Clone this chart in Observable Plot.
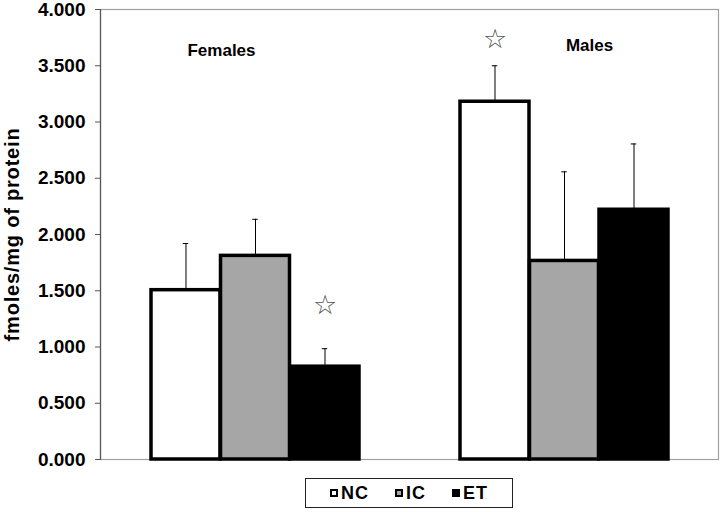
<!DOCTYPE html>
<html>
<head>
<meta charset="utf-8">
<script src="https://cdn.jsdelivr.net/npm/d3@7"></script>
<script src="https://cdn.jsdelivr.net/npm/@observablehq/plot@0.6"></script>
<style>
  body { margin: 0; background: #fff; font-family: "Liberation Sans", Arial, sans-serif; }
  #chart { width: 720px; }
  #chart svg { display: block; }
  #legend {
    margin-left: 305px; margin-top: 8px; width: 208px; height: 30px;
    border: 1.5px solid #222; box-sizing: border-box;
    display: flex; align-items: center; justify-content: center; gap: 26px;
    font-weight: bold; font-size: 18px; letter-spacing: 1px; color: #000;
  }
  #legend .item { display: inline-flex; align-items: center; }
  #legend .sw { width: 4px; height: 4px; border: 2.5px solid #000; display: inline-block; margin-right: 3px; }
  #err { color: red; font-size: 10px; }
</style>
</head>
<body>
<div id="chart"></div>
<pre id="err"></pre>
<script>
window.onerror = (m) => { document.getElementById("err").textContent += m + "\n"; };

// ---- data ----
const groups = ["Females", "Males"];
const series = ["NC", "IC", "ET"];
const femalesMean = [1.505, 1.81, 0.825];
const femalesErr  = [0.415, 0.325, 0.16];
const malesMean   = [3.18, 1.765, 2.22];
const malesErr    = [0.32, 0.792, 0.585];
const stars = [{group: "Females", series: "ET", y: 1.366}, {group: "Males", series: "NC", y: 3.734}];
const groupLabels = ["Females", "Males"];
const groupLabelY = [3.636, 3.68];
const yTicks = [0, 0.5, 1, 1.5, 2, 2.5, 3, 3.5, 4];
const yLabel = "fmoles/mg of protein";

const fills = {NC: "#ffffff", IC: "#a6a6a6", ET: "#000000"};

const rows = [];
groups.forEach((g, gi) => {
  const m = gi === 0 ? femalesMean : malesMean;
  const e = gi === 0 ? femalesErr : malesErr;
  series.forEach((s, si) => rows.push({group: g, series: s, value: m[si], err: e[si]}));
});

// ---- layout ----
const W = 720, H = 470;
const xRange = [150, 668.5], xPad = 0.3274;
const band = d3.scaleBand().domain(groups).range(xRange).paddingInner(xPad).paddingOuter(0);
const bw = band.bandwidth();
const third = bw / 3;
const font = "Liberation Sans, Arial, sans-serif";
const labelDx = [-34, 25];

const marks = [];
marks.push(Plot.frame({stroke: "#a0a0a0", strokeWidth: 1.2}));
marks.push(Plot.frame({anchor: "left", stroke: "#555", strokeWidth: 1.2}));

series.forEach((s, i) => {
  const d = rows.filter(r => r.series === s);
  marks.push(Plot.barY(d, {
    x: "group", y: "value", fill: fills[s], stroke: "#000", strokeWidth: 3.5,
    insetLeft: i * third, insetRight: (2 - i) * third
  }));
  const c = (i + 0.5) * third;
  marks.push(Plot.ruleX(d, {x: "group", y1: "value", y2: d => d.value + d.err, dx: (i - 1) * third, stroke: "#000", strokeWidth: 1}));
  marks.push(Plot.tickY(d, {x: "group", y: d => d.value + d.err, insetLeft: c - 3, insetRight: bw - c - 3, stroke: "#000", strokeWidth: 1}));
  const st = stars.filter(t => t.series === s);
  marks.push(Plot.text(st, {x: "group", y: "y", dx: (i - 1) * third, text: () => "\u2606", fontSize: 27, fill: "#555", fontFamily: "DejaVu Sans"}));
});

groupLabels.forEach((g, i) => {
  marks.push(Plot.text([g], {x: d => d, y: () => groupLabelY[i], text: d => d, dx: labelDx[i], fontSize: 17, fontWeight: "bold", fill: "#000", fontFamily: font}));
});

marks.push(Plot.axisY({ticks: yTicks, tickFormat: d3.format(".3f"), tickSize: 5, tickPadding: 10, fontSize: 19, fontWeight: "bold", label: null, fontFamily: font, stroke: "#555"}));
marks.push(Plot.text([yLabel], {frameAnchor: "left", textAnchor: "middle", dx: -88, rotate: -90, fontSize: 20, fontWeight: "bold", fill: "#000", fontFamily: font}));

const chart = Plot.plot({
  width: W, height: H,
  marginLeft: 100, marginRight: 2, marginTop: 9, marginBottom: 11,
  style: {fontFamily: font, color: "#000", background: "#fff", overflow: "visible"},
  x: {domain: groups, range: xRange, paddingInner: xPad, paddingOuter: 0, axis: null},
  y: {domain: [0, 4], axis: null},
  marks
});
chart.querySelectorAll("text").forEach(t => { if (t.textContent === yLabel) t.style.letterSpacing = "0.8px"; });
document.getElementById("chart").appendChild(chart);

// legend (HTML, below the SVG)
const legend = document.createElement("div");
legend.id = "legend";
series.forEach(s => {
  const it = document.createElement("span");
  it.className = "item";
  const sw = document.createElement("span");
  sw.className = "sw";
  sw.style.background = fills[s];
  const t = document.createElement("span");
  t.textContent = s;
  it.appendChild(sw); it.appendChild(t);
  legend.appendChild(it);
});
document.getElementById("chart").appendChild(legend);
</script>
</body>
</html>
